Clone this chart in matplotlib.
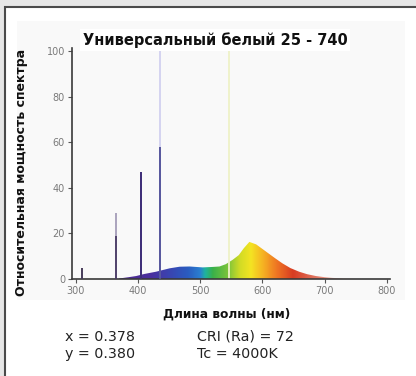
import numpy as np
import matplotlib
matplotlib.use("Agg")
import matplotlib.pyplot as plt
from matplotlib.colors import LinearSegmentedColormap
from matplotlib.patches import Rectangle

# phosphor continuum (nm, relative power)
wl = [300, 365, 372, 385, 397, 410, 429, 451, 467, 483, 504, 520, 531, 541,
      552, 562, 570, 579, 590, 606, 620, 632, 645, 659, 672, 686, 700, 712, 730, 800]
power = [0, 0, 0.3, 0.8, 1.3, 2.2, 3.2, 4.7, 5.4, 5.5, 5.1, 5.3, 5.5, 6.5,
         8.4, 10.5, 13.5, 16.3, 15.2, 12.0, 9.2, 6.9, 4.8, 3.2, 2.1, 1.3, 0.8, 0.5, 0.2, 0]

# mercury lines: position, dark part height, faint full height
line_wl = [310, 365, 405, 436, 546]
line_dark = [5, 19, 47, 58, 0]
line_top = [5, 29, 47, 100, 100]
line_colors = ["#4a3f5c", "#4a3b66", "#3f2f78", "#4c4c96", "#e9ecb8"]
line_faint = ["#4a3f5c", "#a49cb8", "#3f2f78", "#d2d1f0", "#eef2c8"]

xticks = [300, 400, 500, 600, 700, 800]
yticks = [0, 20, 40, 60, 80, 100]

title = "Универсальный белый 25 - 740"
ylabel = "Относительная мощность спектра"
xlabel = "Длина волны (нм)"
notes_left = ["x = 0.378", "y = 0.380"]
notes_right = ["CRI (Ra) = 72", "Tc = 4000K"]

# fill colour by wavelength
grad_lo, grad_hi = 370, 760
grad_stops = [(370, "#4b2a8c"), (420, "#4b2f9e"), (450, "#3a44b0"), (480, "#2a5cc0"),
              (500, "#2a7fd0"), (508, "#1fb3a0"), (520, "#38b04a"), (545, "#7cc43a"),
              (565, "#d4dc25"), (582, "#f4e422"), (602, "#f6b022"), (625, "#ee7222"),
              (650, "#d83c22"), (690, "#e07a66"), (760, "#ffffff")]
spec_cmap = LinearSegmentedColormap.from_list(
    "spec", [((w - grad_lo) / (grad_hi - grad_lo), c) for w, c in grad_stops])

fig = plt.figure(figsize=(4.16, 3.76), dpi=100)
fig.patch.set_facecolor("#e6e6e6")

# white card with dark edge, light panel behind the chart
fig.patches.append(Rectangle((4.5 / 416, -0.01), 1.0, 1 - 6.5 / 376 + 0.01,
                             transform=fig.transFigure, facecolor="white",
                             edgecolor="#4a4a4a", lw=1.5, zorder=-3))
fig.patches.append(Rectangle((17 / 416, 1 - 300 / 376), 388 / 416, 279 / 376,
                             transform=fig.transFigure, facecolor="#f9f9f9",
                             edgecolor="none", zorder=-2))

ax = fig.add_axes([72 / 416, 1 - 279 / 376, 318 / 416, 231 / 376])
ax.set_facecolor("none")
ax.set_xlim(294, 805)
ax.set_ylim(0, 101.5)

x = np.array(wl)
y = np.array(power)
poly = ax.fill_between(x, 0, y, facecolor="none", edgecolor="none")
grad = np.linspace(0, 1, 500).reshape(1, -1)
img = ax.imshow(grad, extent=[grad_lo, grad_hi, 0, 20], aspect="auto", cmap=spec_cmap,
                origin="lower", zorder=1)
img.set_clip_path(poly.get_paths()[0], transform=ax.transData)

for w, d, t, c, fc in zip(line_wl, line_dark, line_top, line_colors, line_faint):
    ax.vlines(w, 0, t, colors=fc, lw=1.3, zorder=2)
    if d > 0:
        ax.vlines(w, 0, d, colors=c, lw=1.3, zorder=3)

ax.spines["top"].set_visible(False)
ax.spines["right"].set_visible(False)
for s in ("left", "bottom"):
    ax.spines[s].set_color("#3a3a3a")
    ax.spines[s].set_linewidth(1.2)
ax.set_xticks(xticks)
ax.set_yticks(yticks)
ax.tick_params(length=3, width=0.8, color="#555555", labelsize=7,
               labelcolor="#7a7a7a", pad=2)

fig.text(215 / 416, 1 - 40 / 376, title, ha="center", va="center",
         fontsize=10.5, fontweight="bold", color="#111111",
         bbox=dict(facecolor="white", edgecolor="none", pad=2))
fig.text(22 / 416, 1 - 172 / 376, ylabel, ha="center", va="center",
         rotation=90, fontsize=9, fontweight="bold", color="#111111")
fig.text(227 / 416, 1 - 314 / 376, xlabel, ha="center", va="center",
         fontsize=8.8, fontweight="bold", color="#111111")
for i, (a, b) in enumerate(zip(notes_left, notes_right)):
    yy = 1 - (337 + i * 17) / 376
    fig.text(65 / 416, yy, a, ha="left", va="center", fontsize=10.3, color="#222222")
    fig.text(197 / 416, yy, b, ha="left", va="center", fontsize=10.3, color="#222222")

fig.savefig("out.png", dpi=100, facecolor=fig.get_facecolor())
